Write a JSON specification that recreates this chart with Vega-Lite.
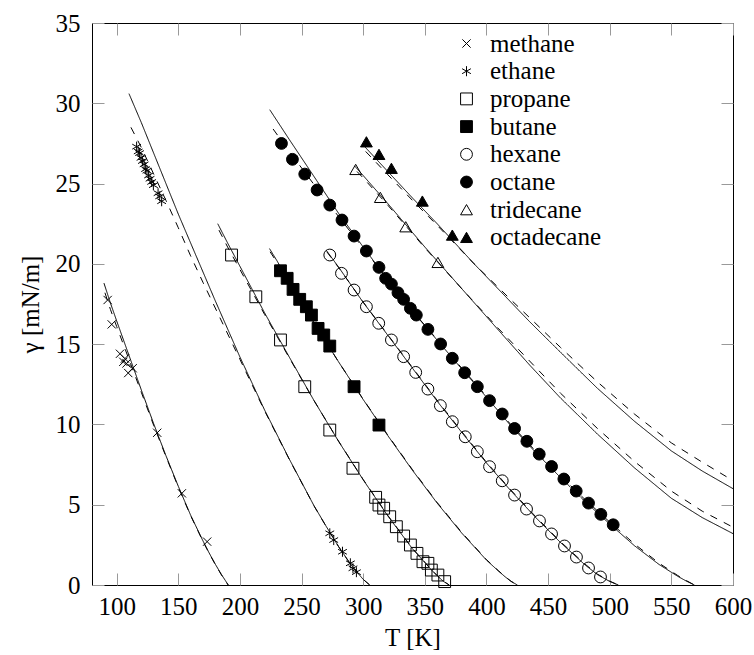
{
"$schema":"https://vega.github.io/schema/vega-lite/v6.json",
"width":641,"height":562,
"autosize":{"type":"none"},
"padding":{"left":92,"top":23,"right":21,"bottom":70},
"config":{"view":{"stroke":"black","strokeWidth":1},"font":"Liberation Serif","legend":{"symbolStrokeColor":"black","symbolStrokeWidth":1}},
"datasets":{
"curves":[
{"s":"methane","d":"solid","T":89.7,"g":18.8},{"s":"methane","d":"solid","T":95,"g":17.55},{"s":"methane","d":"solid","T":100,"g":16.45},{"s":"methane","d":"solid","T":110,"g":14.3},{"s":"methane","d":"solid","T":120,"g":12.15},{"s":"methane","d":"solid","T":130,"g":10.05},{"s":"methane","d":"solid","T":140,"g":8.05},{"s":"methane","d":"solid","T":150,"g":6.15},{"s":"methane","d":"solid","T":160,"g":4.35},{"s":"methane","d":"solid","T":170,"g":2.75},{"s":"methane","d":"solid","T":175,"g":2.0},{"s":"methane","d":"solid","T":180,"g":1.3},{"s":"methane","d":"solid","T":185,"g":0.65},{"s":"methane","d":"solid","T":188,"g":0.3},{"s":"methane","d":"solid","T":190.5,"g":0},
{"s":"methane","d":"dashed","T":90.5,"g":18.2},{"s":"methane","d":"dashed","T":95,"g":17.15},{"s":"methane","d":"dashed","T":100,"g":16.1},{"s":"methane","d":"dashed","T":110,"g":14.05},{"s":"methane","d":"dashed","T":120,"g":12.0},{"s":"methane","d":"dashed","T":130,"g":9.95},{"s":"methane","d":"dashed","T":140,"g":8.0},{"s":"methane","d":"dashed","T":150,"g":6.1},{"s":"methane","d":"dashed","T":160,"g":4.32},{"s":"methane","d":"dashed","T":170,"g":2.72},{"s":"methane","d":"dashed","T":175,"g":1.98},{"s":"methane","d":"dashed","T":180,"g":1.28},{"s":"methane","d":"dashed","T":185,"g":0.63},{"s":"methane","d":"dashed","T":188,"g":0.29},{"s":"methane","d":"dashed","T":190.5,"g":0},
{"s":"ethane","d":"solid","T":110,"g":30.6},{"s":"ethane","d":"solid","T":120,"g":28.8},{"s":"ethane","d":"solid","T":130,"g":26.9},{"s":"ethane","d":"solid","T":140,"g":25.0},{"s":"ethane","d":"solid","T":150,"g":23.1},{"s":"ethane","d":"solid","T":160,"g":21.3},{"s":"ethane","d":"solid","T":170,"g":19.5},{"s":"ethane","d":"solid","T":180,"g":17.7},{"s":"ethane","d":"solid","T":200,"g":14.2},{"s":"ethane","d":"solid","T":220,"g":10.9},{"s":"ethane","d":"solid","T":240,"g":7.85},{"s":"ethane","d":"solid","T":260,"g":4.95},{"s":"ethane","d":"solid","T":270,"g":3.65},{"s":"ethane","d":"solid","T":280,"g":2.4},{"s":"ethane","d":"solid","T":290,"g":1.27},{"s":"ethane","d":"solid","T":295,"g":0.8},{"s":"ethane","d":"solid","T":300,"g":0.35},{"s":"ethane","d":"solid","T":305.3,"g":0},
{"s":"ethane","d":"dashed","T":111.6,"g":28.5},{"s":"ethane","d":"dashed","T":120,"g":27.25},{"s":"ethane","d":"dashed","T":130,"g":25.6},{"s":"ethane","d":"dashed","T":140,"g":23.95},{"s":"ethane","d":"dashed","T":150,"g":22.25},{"s":"ethane","d":"dashed","T":160,"g":20.5},{"s":"ethane","d":"dashed","T":170,"g":18.85},{"s":"ethane","d":"dashed","T":180,"g":17.25},{"s":"ethane","d":"dashed","T":200,"g":14.05},{"s":"ethane","d":"dashed","T":220,"g":10.85},{"s":"ethane","d":"dashed","T":240,"g":7.83},{"s":"ethane","d":"dashed","T":260,"g":4.94},{"s":"ethane","d":"dashed","T":270,"g":3.64},{"s":"ethane","d":"dashed","T":280,"g":2.39},{"s":"ethane","d":"dashed","T":290,"g":1.26},{"s":"ethane","d":"dashed","T":295,"g":0.8},{"s":"ethane","d":"dashed","T":300,"g":0.35},{"s":"ethane","d":"dashed","T":305.3,"g":0},
{"s":"propane","d":"solid","T":182,"g":22.5},{"s":"propane","d":"solid","T":190,"g":21.3},{"s":"propane","d":"solid","T":200,"g":19.85},{"s":"propane","d":"solid","T":210,"g":18.4},{"s":"propane","d":"solid","T":220,"g":16.95},{"s":"propane","d":"solid","T":240,"g":14.2},{"s":"propane","d":"solid","T":260,"g":11.5},{"s":"propane","d":"solid","T":280,"g":8.95},{"s":"propane","d":"solid","T":300,"g":6.55},{"s":"propane","d":"solid","T":320,"g":4.3},{"s":"propane","d":"solid","T":340,"g":2.25},{"s":"propane","d":"solid","T":350,"g":1.4},{"s":"propane","d":"solid","T":355,"g":0.97},{"s":"propane","d":"solid","T":360,"g":0.58},{"s":"propane","d":"solid","T":365,"g":0.23},{"s":"propane","d":"solid","T":369.8,"g":0},
{"s":"propane","d":"dashed","T":183,"g":22.1},{"s":"propane","d":"dashed","T":190,"g":21.05},{"s":"propane","d":"dashed","T":200,"g":19.65},{"s":"propane","d":"dashed","T":210,"g":18.25},{"s":"propane","d":"dashed","T":220,"g":16.85},{"s":"propane","d":"dashed","T":240,"g":14.15},{"s":"propane","d":"dashed","T":260,"g":11.5},{"s":"propane","d":"dashed","T":280,"g":8.96},{"s":"propane","d":"dashed","T":300,"g":6.57},{"s":"propane","d":"dashed","T":320,"g":4.33},{"s":"propane","d":"dashed","T":340,"g":2.28},{"s":"propane","d":"dashed","T":350,"g":1.42},{"s":"propane","d":"dashed","T":355,"g":0.98},{"s":"propane","d":"dashed","T":360,"g":0.59},{"s":"propane","d":"dashed","T":365,"g":0.24},{"s":"propane","d":"dashed","T":369.8,"g":0},
{"s":"butane","d":"solid","T":224,"g":20.95},{"s":"butane","d":"solid","T":230,"g":20.2},{"s":"butane","d":"solid","T":240,"g":18.85},{"s":"butane","d":"solid","T":260,"g":16.35},{"s":"butane","d":"solid","T":280,"g":13.9},{"s":"butane","d":"solid","T":300,"g":11.55},{"s":"butane","d":"solid","T":320,"g":9.3},{"s":"butane","d":"solid","T":340,"g":7.14},{"s":"butane","d":"solid","T":360,"g":5.1},{"s":"butane","d":"solid","T":380,"g":3.23},{"s":"butane","d":"solid","T":400,"g":1.55},{"s":"butane","d":"solid","T":410,"g":0.85},{"s":"butane","d":"solid","T":415,"g":0.52},{"s":"butane","d":"solid","T":420,"g":0.22},{"s":"butane","d":"solid","T":425.1,"g":0},
{"s":"butane","d":"dashed","T":224.5,"g":20.75},{"s":"butane","d":"dashed","T":230,"g":20.1},{"s":"butane","d":"dashed","T":240,"g":18.8},{"s":"butane","d":"dashed","T":260,"g":16.33},{"s":"butane","d":"dashed","T":280,"g":13.9},{"s":"butane","d":"dashed","T":300,"g":11.57},{"s":"butane","d":"dashed","T":320,"g":9.33},{"s":"butane","d":"dashed","T":340,"g":7.18},{"s":"butane","d":"dashed","T":360,"g":5.14},{"s":"butane","d":"dashed","T":380,"g":3.27},{"s":"butane","d":"dashed","T":400,"g":1.58},{"s":"butane","d":"dashed","T":410,"g":0.87},{"s":"butane","d":"dashed","T":415,"g":0.53},{"s":"butane","d":"dashed","T":420,"g":0.23},{"s":"butane","d":"dashed","T":425.1,"g":0},
{"s":"hexane","d":"solid","T":270,"g":20.85},{"s":"hexane","d":"solid","T":280,"g":19.8},{"s":"hexane","d":"solid","T":300,"g":17.6},{"s":"hexane","d":"solid","T":320,"g":15.55},{"s":"hexane","d":"solid","T":340,"g":13.5},{"s":"hexane","d":"solid","T":360,"g":11.45},{"s":"hexane","d":"solid","T":380,"g":9.5},{"s":"hexane","d":"solid","T":400,"g":7.6},{"s":"hexane","d":"solid","T":420,"g":5.85},{"s":"hexane","d":"solid","T":440,"g":4.2},{"s":"hexane","d":"solid","T":460,"g":2.65},{"s":"hexane","d":"solid","T":480,"g":1.25},{"s":"hexane","d":"solid","T":490,"g":0.65},{"s":"hexane","d":"solid","T":500,"g":0.22},{"s":"hexane","d":"solid","T":507,"g":0},
{"s":"hexane","d":"dashed","T":270.5,"g":20.75},{"s":"hexane","d":"dashed","T":280,"g":19.78},{"s":"hexane","d":"dashed","T":300,"g":17.62},{"s":"hexane","d":"dashed","T":320,"g":15.58},{"s":"hexane","d":"dashed","T":340,"g":13.54},{"s":"hexane","d":"dashed","T":360,"g":11.5},{"s":"hexane","d":"dashed","T":380,"g":9.55},{"s":"hexane","d":"dashed","T":400,"g":7.65},{"s":"hexane","d":"dashed","T":420,"g":5.9},{"s":"hexane","d":"dashed","T":440,"g":4.25},{"s":"hexane","d":"dashed","T":460,"g":2.7},{"s":"hexane","d":"dashed","T":480,"g":1.3},{"s":"hexane","d":"dashed","T":490,"g":0.68},{"s":"hexane","d":"dashed","T":500,"g":0.24},{"s":"hexane","d":"dashed","T":507,"g":0},
{"s":"octane","d":"solid","T":224.2,"g":29.6},{"s":"octane","d":"solid","T":240,"g":27.75},{"s":"octane","d":"solid","T":260,"g":25.45},{"s":"octane","d":"solid","T":280,"g":23.15},{"s":"octane","d":"solid","T":300,"g":21.05},{"s":"octane","d":"solid","T":320,"g":19.0},{"s":"octane","d":"solid","T":340,"g":17.05},{"s":"octane","d":"solid","T":360,"g":15.25},{"s":"octane","d":"solid","T":380,"g":13.45},{"s":"octane","d":"solid","T":400,"g":11.7},{"s":"octane","d":"solid","T":420,"g":9.9},{"s":"octane","d":"solid","T":440,"g":8.25},{"s":"octane","d":"solid","T":460,"g":6.7},{"s":"octane","d":"solid","T":480,"g":5.2},{"s":"octane","d":"solid","T":500,"g":3.8},{"s":"octane","d":"solid","T":520,"g":2.45},{"s":"octane","d":"solid","T":540,"g":1.28},{"s":"octane","d":"solid","T":555,"g":0.55},{"s":"octane","d":"solid","T":562,"g":0.25},{"s":"octane","d":"solid","T":568.7,"g":0},
{"s":"octane","d":"dashed","T":226.9,"g":28.4},{"s":"octane","d":"dashed","T":240,"g":27.0},{"s":"octane","d":"dashed","T":260,"g":24.95},{"s":"octane","d":"dashed","T":280,"g":22.95},{"s":"octane","d":"dashed","T":300,"g":20.98},{"s":"octane","d":"dashed","T":320,"g":19.0},{"s":"octane","d":"dashed","T":340,"g":17.07},{"s":"octane","d":"dashed","T":360,"g":15.28},{"s":"octane","d":"dashed","T":380,"g":13.5},{"s":"octane","d":"dashed","T":400,"g":11.76},{"s":"octane","d":"dashed","T":420,"g":9.97},{"s":"octane","d":"dashed","T":440,"g":8.33},{"s":"octane","d":"dashed","T":460,"g":6.8},{"s":"octane","d":"dashed","T":480,"g":5.32},{"s":"octane","d":"dashed","T":500,"g":3.92},{"s":"octane","d":"dashed","T":520,"g":2.56},{"s":"octane","d":"dashed","T":540,"g":1.36},{"s":"octane","d":"dashed","T":555,"g":0.6},{"s":"octane","d":"dashed","T":562,"g":0.28},{"s":"octane","d":"dashed","T":568.7,"g":0},
{"s":"tridecane","d":"solid","T":293,"g":26.1},{"s":"tridecane","d":"solid","T":300,"g":25.5},{"s":"tridecane","d":"solid","T":320,"g":23.75},{"s":"tridecane","d":"solid","T":350,"g":21.05},{"s":"tridecane","d":"solid","T":380,"g":18.45},{"s":"tridecane","d":"solid","T":410,"g":15.85},{"s":"tridecane","d":"solid","T":435,"g":13.7},{"s":"tridecane","d":"solid","T":460,"g":11.65},{"s":"tridecane","d":"solid","T":490,"g":9.4},{"s":"tridecane","d":"solid","T":520,"g":7.3},{"s":"tridecane","d":"solid","T":550,"g":5.4},{"s":"tridecane","d":"solid","T":575,"g":4.2},{"s":"tridecane","d":"solid","T":600,"g":3.2},
{"s":"tridecane","d":"dashed","T":295,"g":25.75},{"s":"tridecane","d":"dashed","T":300,"g":25.35},{"s":"tridecane","d":"dashed","T":320,"g":23.65},{"s":"tridecane","d":"dashed","T":350,"g":21.0},{"s":"tridecane","d":"dashed","T":380,"g":18.45},{"s":"tridecane","d":"dashed","T":410,"g":15.95},{"s":"tridecane","d":"dashed","T":435,"g":13.95},{"s":"tridecane","d":"dashed","T":460,"g":11.95},{"s":"tridecane","d":"dashed","T":490,"g":9.75},{"s":"tridecane","d":"dashed","T":520,"g":7.7},{"s":"tridecane","d":"dashed","T":550,"g":5.85},{"s":"tridecane","d":"dashed","T":575,"g":4.6},{"s":"tridecane","d":"dashed","T":600,"g":3.6},
{"s":"octadecane","d":"solid","T":300,"g":27.4},{"s":"octadecane","d":"solid","T":320,"g":25.75},{"s":"octadecane","d":"solid","T":340,"g":24.1},{"s":"octadecane","d":"solid","T":360,"g":22.5},{"s":"octadecane","d":"solid","T":390,"g":20.0},{"s":"octadecane","d":"solid","T":420,"g":17.6},{"s":"octadecane","d":"solid","T":435,"g":16.4},{"s":"octadecane","d":"solid","T":460,"g":14.5},{"s":"octadecane","d":"solid","T":490,"g":12.25},{"s":"octadecane","d":"solid","T":520,"g":10.2},{"s":"octadecane","d":"solid","T":550,"g":8.35},{"s":"octadecane","d":"solid","T":575,"g":7.1},{"s":"octadecane","d":"solid","T":600,"g":6.0},
{"s":"octadecane","d":"dashed","T":302,"g":27.0},{"s":"octadecane","d":"dashed","T":320,"g":25.55},{"s":"octadecane","d":"dashed","T":340,"g":23.95},{"s":"octadecane","d":"dashed","T":360,"g":22.4},{"s":"octadecane","d":"dashed","T":390,"g":20.0},{"s":"octadecane","d":"dashed","T":420,"g":17.75},{"s":"octadecane","d":"dashed","T":435,"g":16.65},{"s":"octadecane","d":"dashed","T":460,"g":14.8},{"s":"octadecane","d":"dashed","T":490,"g":12.65},{"s":"octadecane","d":"dashed","T":520,"g":10.65},{"s":"octadecane","d":"dashed","T":550,"g":8.85},{"s":"octadecane","d":"dashed","T":575,"g":7.65},{"s":"octadecane","d":"dashed","T":600,"g":6.5}
],
"points":[
{"s":"methane","T":92.7,"g":17.75},{"s":"methane","T":96,"g":16.23},{"s":"methane","T":102.7,"g":14.4},{"s":"methane","T":105.4,"g":13.9},{"s":"methane","T":106.7,"g":14.1},{"s":"methane","T":108,"g":13.8},{"s":"methane","T":109.4,"g":13.2},{"s":"methane","T":113,"g":13.5},{"s":"methane","T":132.9,"g":9.48},{"s":"methane","T":152.9,"g":5.71},{"s":"methane","T":173.4,"g":2.7},
{"s":"ethane","T":116.2,"g":27.3},{"s":"ethane","T":117.5,"g":27.0},{"s":"ethane","T":118.6,"g":26.9},{"s":"ethane","T":119.8,"g":26.6},{"s":"ethane","T":120.9,"g":26.4},{"s":"ethane","T":122.3,"g":26.2},{"s":"ethane","T":123.5,"g":25.9},{"s":"ethane","T":124.6,"g":25.8},{"s":"ethane","T":125.9,"g":25.5},{"s":"ethane","T":127.1,"g":25.3},{"s":"ethane","T":128.4,"g":25.1},{"s":"ethane","T":129.8,"g":24.9},{"s":"ethane","T":133.6,"g":24.4},{"s":"ethane","T":134.9,"g":24.2},{"s":"ethane","T":136.5,"g":23.9},{"s":"ethane","T":272.9,"g":3.22},{"s":"ethane","T":276.1,"g":2.8},{"s":"ethane","T":283.2,"g":2.07},{"s":"ethane","T":289.6,"g":1.35},{"s":"ethane","T":291.7,"g":1.04},{"s":"ethane","T":294.5,"g":0.8},
{"s":"propane","T":193.2,"g":20.55},{"s":"propane","T":212.9,"g":17.95},{"s":"propane","T":232.9,"g":15.26},{"s":"propane","T":252.6,"g":12.35},{"s":"propane","T":272.9,"g":9.65},{"s":"propane","T":291.7,"g":7.27},{"s":"propane","T":310.1,"g":5.46},{"s":"propane","T":312.8,"g":4.98},{"s":"propane","T":316.6,"g":4.78},{"s":"propane","T":321.5,"g":4.25},{"s":"propane","T":326.9,"g":3.63},{"s":"propane","T":332.8,"g":3.05},{"s":"propane","T":338.3,"g":2.49},{"s":"propane","T":343.6,"g":1.97},{"s":"propane","T":348.5,"g":1.45},{"s":"propane","T":352.5,"g":1.35},{"s":"propane","T":355.3,"g":0.93},{"s":"propane","T":360.6,"g":0.62},{"s":"propane","T":366.1,"g":0.21},
{"s":"butane","T":232.9,"g":19.57},{"s":"butane","T":238.3,"g":19.1},{"s":"butane","T":243.1,"g":18.41},{"s":"butane","T":248.5,"g":17.79},{"s":"butane","T":253.9,"g":17.33},{"s":"butane","T":258.0,"g":16.81},{"s":"butane","T":263.4,"g":15.98},{"s":"butane","T":268.0,"g":15.57},{"s":"butane","T":272.9,"g":14.88},{"s":"butane","T":292.6,"g":12.35},{"s":"butane","T":312.8,"g":9.96},
{"s":"hexane","T":272.9,"g":20.55},{"s":"hexane","T":282.4,"g":19.41},{"s":"hexane","T":292.6,"g":18.37},{"s":"hexane","T":302.6,"g":17.33},{"s":"hexane","T":312.6,"g":16.3},{"s":"hexane","T":322.9,"g":15.26},{"s":"hexane","T":332.8,"g":14.22},{"s":"hexane","T":342.6,"g":13.24},{"s":"hexane","T":352.5,"g":12.2},{"s":"hexane","T":362.6,"g":11.17},{"s":"hexane","T":372.3,"g":10.17},{"s":"hexane","T":382.8,"g":9.23},{"s":"hexane","T":392.6,"g":8.3},{"s":"hexane","T":402.5,"g":7.37},{"s":"hexane","T":412.8,"g":6.49},{"s":"hexane","T":422.8,"g":5.6},{"s":"hexane","T":432.5,"g":4.73},{"s":"hexane","T":443.0,"g":3.99},{"s":"hexane","T":452.8,"g":3.18},{"s":"hexane","T":463.3,"g":2.43},{"s":"hexane","T":473.0,"g":1.74},{"s":"hexane","T":482.8,"g":1.06},{"s":"hexane","T":492.5,"g":0.5},
{"s":"octane","T":233.7,"g":27.5},{"s":"octane","T":242.6,"g":26.51},{"s":"octane","T":252.6,"g":25.59},{"s":"octane","T":262.6,"g":24.6},{"s":"octane","T":272.9,"g":23.66},{"s":"octane","T":282.8,"g":22.73},{"s":"octane","T":292.6,"g":21.73},{"s":"octane","T":302.6,"g":20.8},{"s":"octane","T":312.8,"g":19.78},{"s":"octane","T":318.2,"g":19.1},{"s":"octane","T":322.9,"g":18.74},{"s":"octane","T":328.2,"g":18.2},{"s":"octane","T":332.8,"g":17.79},{"s":"octane","T":338.3,"g":17.23},{"s":"octane","T":343.1,"g":16.81},{"s":"octane","T":352.5,"g":15.92},{"s":"octane","T":362.8,"g":15.01},{"s":"octane","T":372.3,"g":14.12},{"s":"octane","T":382.3,"g":13.22},{"s":"octane","T":392.6,"g":12.35},{"s":"octane","T":402.5,"g":11.48},{"s":"octane","T":412.8,"g":10.65},{"s":"octane","T":422.8,"g":9.75},{"s":"octane","T":432.8,"g":8.95},{"s":"octane","T":442.8,"g":8.15},{"s":"octane","T":452.8,"g":7.38},{"s":"octane","T":462.8,"g":6.6},{"s":"octane","T":472.8,"g":5.85},{"s":"octane","T":482.8,"g":5.1},{"s":"octane","T":492.8,"g":4.4},{"s":"octane","T":502.8,"g":3.75},
{"s":"tridecane","T":293.9,"g":25.88},{"s":"tridecane","T":313.9,"g":24.14},{"s":"tridecane","T":334.5,"g":22.31},{"s":"tridecane","T":360.6,"g":20.09},
{"s":"octadecane","T":302.6,"g":27.6},{"s":"octadecane","T":312.8,"g":26.82},{"s":"octadecane","T":322.9,"g":25.95},{"s":"octadecane","T":348.0,"g":23.91},{"s":"octadecane","T":372.3,"g":21.79}
]
},
"layer":[
{"data":{"name":"curves"},
 "mark":{"type":"line","color":"black","strokeWidth":1,"clip":true},
 "encoding":{
  "x":{"field":"T","type":"quantitative","scale":{"domain":[80,600],"nice":false,"zero":false},
   "axis":{"orient":"bottom","values":[100,150,200,250,300,350,400,450,500,550,600],"tickSize":-12,"tickColor":"#999","domain":false,"grid":false,"labelFont":"Liberation Serif","labelFontSize":25,"labelColor":"black","labelPadding":21,"labelFlush":false,"labelOverlap":false,"title":"T [K]","titleFont":"Liberation Serif","titleFontSize":25,"titleFontWeight":"normal","titleColor":"black","titlePadding":6}},
  "y":{"field":"g","type":"quantitative","scale":{"domain":[0,35],"nice":false,"zero":false},
   "axis":{"orient":"left","values":[0,5,10,15,20,25,30,35],"tickSize":-12,"tickColor":"#999","domain":false,"grid":false,"labelFont":"Liberation Serif","labelFontSize":25,"labelColor":"black","labelPadding":24,"labelFlush":false,"labelOverlap":false,"title":"γ [mN/m]","titleFont":"Liberation Serif","titleFontSize":25,"titleFontWeight":"normal","titleColor":"black","titlePadding":12}},
  "detail":{"field":"s","type":"nominal"},
  "strokeDash":{"field":"d","type":"nominal","scale":{"domain":["solid","dashed"],"range":[[1,0],[7.5,7.5]]},"legend":null}
 }},
{"data":{"name":"points"},
 "mark":{"type":"point","filled":false,"strokeWidth":1,"opacity":1,"strokeOpacity":1,"fillOpacity":1,"size":140},
 "encoding":{
  "x":{"field":"T","type":"quantitative","axis":{"orient":"top","values":[100,150,200,250,300,350,400,450,500,550,600],"tickSize":-12,"tickColor":"#999","domain":false,"grid":false,"labels":false,"title":null}},
  "y":{"field":"g","type":"quantitative","axis":{"orient":"right","values":[0,5,10,15,20,25,30,35],"tickSize":-12,"tickColor":"#999","domain":false,"grid":false,"labels":false,"title":null}},
  "shape":{"field":"s","type":"nominal","scale":{"domain":["methane","ethane","propane","butane","hexane","octane","tridecane","octadecane"],"range":["M-0.7,-0.7L0.7,0.7M-0.7,0.7L0.7,-0.7","M0,-0.85L0,0.85M-0.74,-0.42L0.74,0.42M-0.74,0.42L0.74,-0.42","square","square","circle","circle","triangle-up","triangle-up"]},
   "legend":{"orient":"none","legendX":362,"legendY":8,"title":null,"labelFont":"Liberation Serif","labelFontSize":25,"labelColor":"black","symbolSize":140,"symbolStrokeWidth":1,"rowPadding":1.7,"labelOffset":11,"padding":0}},
  "stroke":{"field":"s","type":"nominal","scale":{"domain":["methane","ethane","propane","butane","hexane","octane","tridecane","octadecane"],"range":["black","black","black","black","black","black","black","black"]},
   "legend":{"orient":"none","legendX":362,"legendY":8,"title":null,"labelFont":"Liberation Serif","labelFontSize":25,"labelColor":"black","symbolSize":140,"symbolStrokeWidth":1,"rowPadding":1.7,"labelOffset":11,"padding":0}},
  "fill":{"field":"s","type":"nominal","scale":{"domain":["methane","ethane","propane","butane","hexane","octane","tridecane","octadecane"],"range":["transparent","transparent","transparent","black","transparent","black","transparent","black"]},
   "legend":{"orient":"none","legendX":362,"legendY":8,"title":null,"labelFont":"Liberation Serif","labelFontSize":25,"labelColor":"black","symbolSize":140,"symbolStrokeWidth":1,"rowPadding":1.7,"labelOffset":11,"padding":0}}
 }}
],
"resolve":{"axis":{"x":"independent","y":"independent"}}
}
